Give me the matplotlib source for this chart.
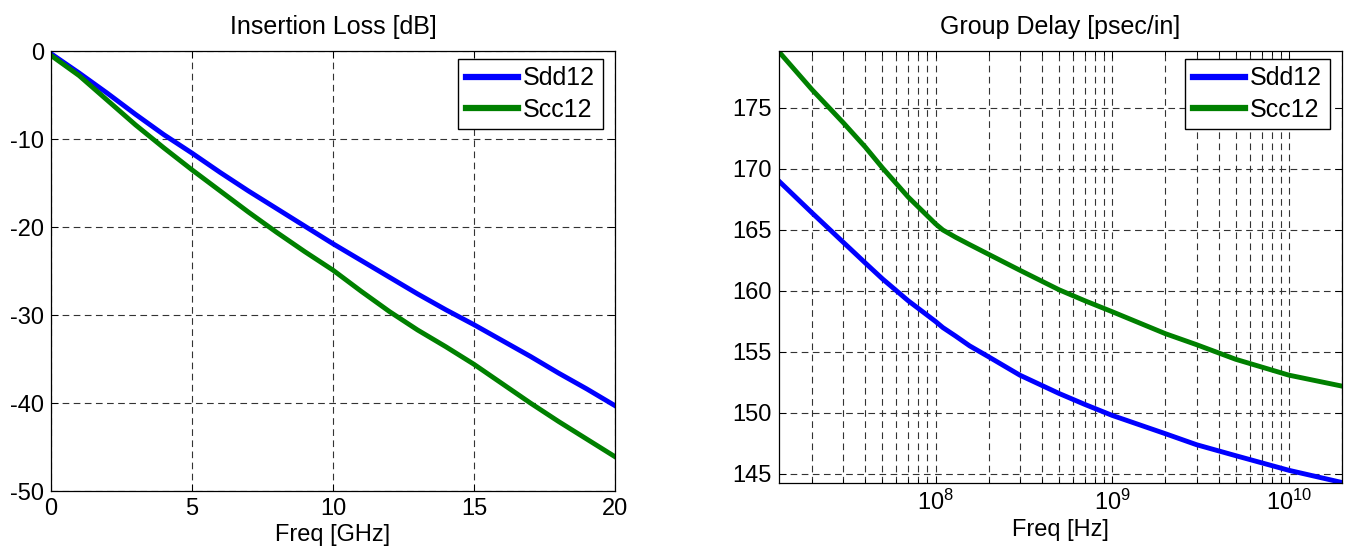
import numpy as np
import matplotlib
matplotlib.use("Agg")
from matplotlib import pyplot as plt
from matplotlib import ticker

plt.rcParams['font.family'] = ['Liberation Sans', 'DejaVu Sans']
plt.rcParams['mathtext.fontset'] = 'custom'
plt.rcParams['mathtext.rm'] = 'Liberation Sans'
plt.rcParams['axes.unicode_minus'] = False

# insertion loss, freq in GHz
il_freq = np.array([0, 1, 2, 3, 4, 5, 6, 7, 8, 9, 10, 11, 12, 13, 14, 15, 16, 17, 18, 19, 20])
il_sdd12 = np.array([-0.3, -2.5, -4.8, -7.2, -9.5, -11.6, -13.8, -15.9, -17.9, -19.9, -21.9,
                     -23.8, -25.7, -27.6, -29.4, -31.1, -32.9, -34.7, -36.6, -38.4, -40.3])
il_scc12 = np.array([-0.5, -2.8, -5.6, -8.4, -11.0, -13.5, -15.9, -18.3, -20.6, -22.8, -24.9,
                     -27.3, -29.6, -31.7, -33.6, -35.6, -37.8, -40.0, -42.1, -44.1, -46.1])

# group delay, freq in Hz
gd_freq = np.array([1.3e7, 2e7, 3e7, 4e7, 5e7, 7e7, 1e8, 1.1e8, 1.3e8, 1.56e8, 2e8, 3e8, 5e8,
                    7e8, 1e9, 2e9, 3e9, 5e9, 1e10, 2e10])
gd_sdd12 = np.array([169.0, 166.4, 164.0, 162.3, 161.0, 159.2, 157.5, 157.0, 156.3, 155.5, 154.6,
                     153.1, 151.6, 150.7, 149.8, 148.3, 147.4, 146.5, 145.3, 144.3])
gd_scc12 = np.array([179.6, 176.5, 173.8, 171.8, 170.1, 167.7, 165.5, 165.0, 164.4, 163.8, 163.0,
                     161.7, 160.1, 159.2, 158.3, 156.5, 155.6, 154.4, 153.1, 152.2])

FS = 17
grid_style = dict(color='0.2', linestyle=(0, (6, 4)), linewidth=0.8)

fig = plt.figure(figsize=(13.48, 5.52), dpi=100)
ax1 = fig.add_axes([0.0378, 0.1105, 0.4184, 0.7971])
ax2 = fig.add_axes([0.5779, 0.125, 0.4177, 0.7826])

ax1.plot(il_freq, il_sdd12, color=(0, 0, 1), lw=3.5, label='Sdd12')
ax1.plot(il_freq, il_scc12, color=(0, 0.5, 0), lw=3.5, label='Scc12')
ax1.set_xlim(0, 20)
ax1.set_ylim(-50, 0)
ax1.set_xticks([0, 5, 10, 15, 20])
ax1.set_yticks([0, -10, -20, -30, -40, -50])
ax1.grid(True, **grid_style)
ax1.set_title('Insertion Loss [dB]', fontsize=FS + 1, pad=12)
ax1.set_xlabel('Freq [GHz]', fontsize=FS, labelpad=3)

ax2.semilogx(gd_freq, gd_sdd12, color=(0, 0, 1), lw=3.5, label='Sdd12')
ax2.semilogx(gd_freq, gd_scc12, color=(0, 0.5, 0), lw=3.5, label='Scc12')
ax2.set_xlim(1.3e7, 2e10)
ax2.set_ylim(144.26, 179.67)
ax2.set_yticks([145, 150, 155, 160, 165, 170, 175])
ax2.xaxis.set_major_locator(ticker.LogLocator(base=10))
ax2.xaxis.set_minor_locator(ticker.LogLocator(base=10, subs=np.arange(2, 10)))
ax2.xaxis.set_minor_formatter(ticker.NullFormatter())
ax2.grid(True, which='both', axis='x', **grid_style)
ax2.grid(True, which='major', axis='y', **grid_style)
ax2.set_title('Group Delay [psec/in]', fontsize=FS + 1, pad=12)
ax2.set_xlabel('Freq [Hz]', fontsize=FS, labelpad=3)

for ax in (ax1, ax2):
    ax.tick_params(which='both', direction='in', top=True, right=True, labelsize=FS, pad=5)
    ax.tick_params(which='major', length=5, width=0.7)
    ax.tick_params(which='minor', length=3, width=0.7)
    for s in ax.spines.values():
        s.set_linewidth(0.9)
    ax.set_axisbelow(True)
    leg = ax.legend(loc='upper right', bbox_to_anchor=(0.978, 0.982), borderaxespad=0,
                    fontsize=FS + 1, handlelength=2.1, handletextpad=0.2, labelspacing=0.3,
                    borderpad=0.3, fancybox=False, framealpha=1)
    leg.get_frame().set_edgecolor('black')
    leg.get_frame().set_linewidth(1.0)
    for h in leg.legend_handles:
        h.set_linewidth(4.5)

fig.savefig('out.png', dpi=100)
